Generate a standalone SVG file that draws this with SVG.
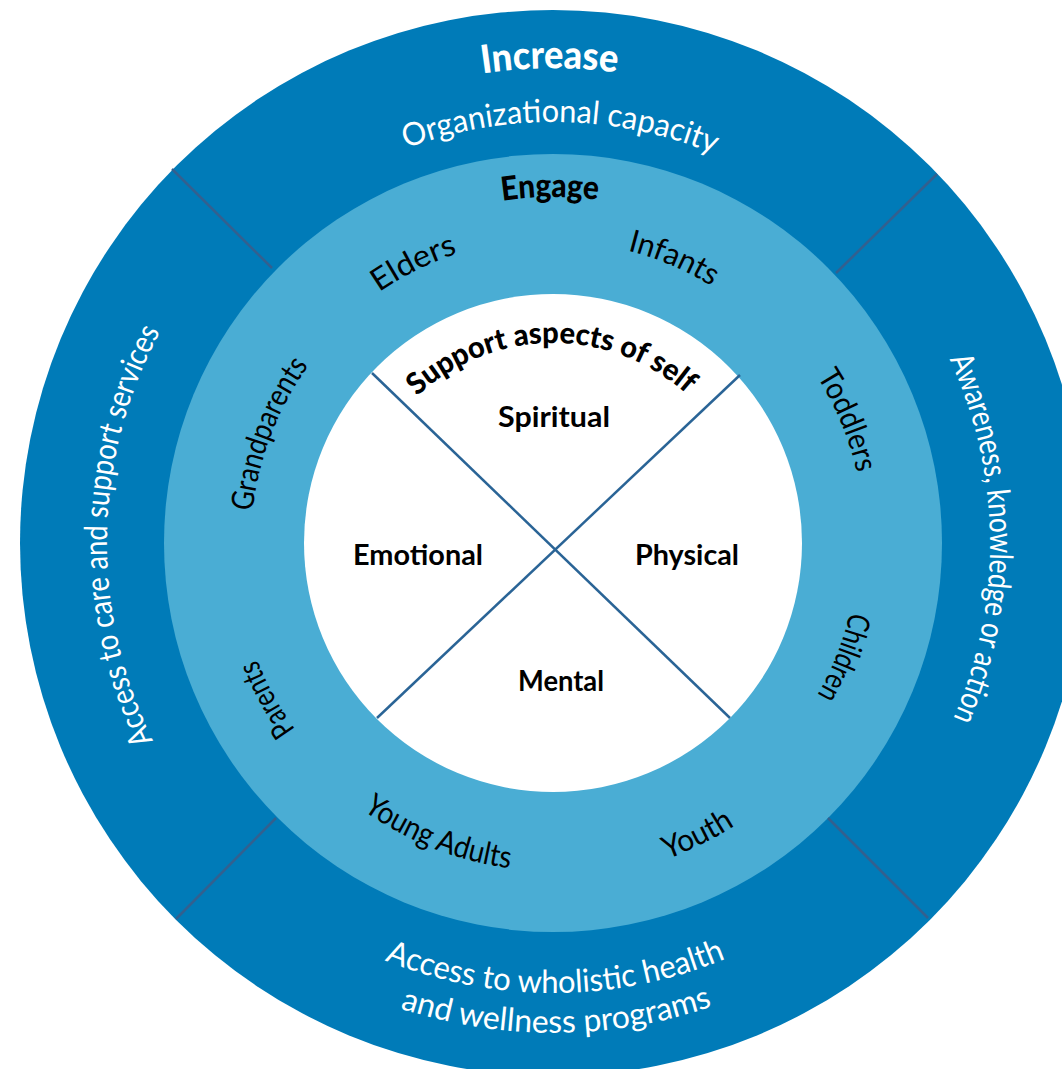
<svg xmlns="http://www.w3.org/2000/svg" width="1062" height="1069" viewBox="0 0 1062 1069">
<style>
.outer{fill:#007bb8}
.mid{fill:#4aadd4}
.inner{fill:#ffffff}
.div{stroke:#33608f;stroke-width:2.5;fill:none}
.cross{stroke:#2a6496;stroke-width:2.5;fill:none}
.wl{font-family:Lato,"Open Sans","Liberation Sans",sans-serif;font-weight:400;font-size:32px;fill:#ffffff;text-anchor:middle}
.bl{font-family:Lato,"Open Sans","Liberation Sans",sans-serif;font-weight:400;font-size:31px;fill:#000000;text-anchor:middle}
.hw{font-family:Lato,"Open Sans","Liberation Sans",sans-serif;font-weight:900;font-size:39px;fill:#ffffff;text-anchor:middle}
.hb{font-family:Lato,"Open Sans","Liberation Sans",sans-serif;font-weight:900;fill:#000000;text-anchor:middle}
.q{font-family:Lato,"Open Sans","Liberation Sans",sans-serif;font-weight:700;font-size:28px;fill:#000000;text-anchor:middle}
</style>
<defs>
<path id="c475" d="M78 543 A475 475 0 0 1 1028 543"/>
<path id="c421" d="M132 543 A421 421 0 0 1 974 543"/>
<path id="c346" d="M207 543 A346 346 0 0 1 899 543"/>
<path id="c200" d="M353 543 A200 200 0 0 1 753 543"/>
<path id="c437" d="M116 543 A437 437 0 0 1 990 543"/>
<path id="c446" d="M107 543 A446 446 0 0 1 999 543"/>
<path id="c302" d="M251 543 A302 302 0 0 1 855 543"/>
<path id="c305" d="M248 543 A305 305 0 0 1 858 543"/>
<path id="c312" d="M241 543 A312 312 0 0 1 865 543"/>
<path id="c305b" d="M248 543 A305 305 0 0 1 858 543"/>
<path id="c318" d="M235 543 A318 318 0 0 1 871 543"/>
<path id="a336" d="M217 543 A336 336 0 0 0 889 543"/>
<path id="a328" d="M225 543 A328 328 0 0 0 881 543"/>
<path id="a450" d="M103 543 A450 450 0 0 0 1003 543"/>
<path id="a490" d="M63 543 A490 490 0 0 0 1043 543"/>
</defs>

<g id="ring-increase">
<circle class="outer" cx="553" cy="543" r="533"/>
</g>
<g id="ring-engage">
<circle class="mid" cx="553" cy="543" r="389"/>
</g>
<g id="core-self">
<circle class="inner" cx="553" cy="543" r="249"/>
</g>

<g id="connectors">
<line class="div" x1="172" y1="169" x2="272" y2="268"/>
<line class="div" x1="937" y1="174" x2="836" y2="273"/>
<line class="div" x1="176" y1="919" x2="276" y2="818"/>
<line class="div" x1="928" y1="918" x2="828" y2="818"/>
<line class="cross" x1="372" y1="373" x2="730" y2="718"/>
<line class="cross" x1="740" y1="375" x2="377" y2="718"/>
</g>

<g id="outer-labels">
<text class="hw" transform="rotate(-0.4 553 543)"><textPath href="#c475" startOffset="50%" textLength="135" lengthAdjust="spacingAndGlyphs">Increase</textPath></text>
<text class="wl" transform="rotate(1 553 543)"><textPath href="#c421" startOffset="50%" textLength="315" lengthAdjust="spacingAndGlyphs">Organizational capacity</textPath></text>
<text class="wl" transform="rotate(89.4 553 543)"><textPath href="#c437" startOffset="50%" textLength="370" lengthAdjust="spacingAndGlyphs">Awareness, knowledge or action</textPath></text>
<text class="wl" transform="rotate(271 553 543)"><textPath href="#c446" startOffset="50%" textLength="425" lengthAdjust="spacingAndGlyphs">Access to care and support services</textPath></text>
<text class="wl" transform="rotate(-0.3 553 543)"><textPath href="#a450" startOffset="50%" textLength="350" lengthAdjust="spacingAndGlyphs">Access to wholistic health</textPath></text>
<text class="wl" font-size="31" transform="rotate(-0.4 553 543)"><textPath href="#a490" startOffset="50%" textLength="318" lengthAdjust="spacingAndGlyphs">and wellness programs</textPath></text>
</g>

<g id="engage-labels">
<text class="hb" font-size="33" transform="rotate(-0.5 553 543)"><textPath href="#c346" startOffset="50%" textLength="96" lengthAdjust="spacingAndGlyphs">Engage</textPath></text>
<text class="bl" transform="rotate(-26.5 553 543)"><textPath href="#c305" startOffset="50%" textLength="88" lengthAdjust="spacingAndGlyphs">Elders</textPath></text>
<text class="bl" transform="rotate(23 553 543)"><textPath href="#c302" startOffset="50%" textLength="92" lengthAdjust="spacingAndGlyphs">Infants</textPath></text>
<text class="bl" transform="rotate(67.4 553 543)"><textPath href="#c312" startOffset="50%" textLength="105" lengthAdjust="spacingAndGlyphs">Toddlers</textPath></text>
<text class="bl" transform="rotate(111.5 553 543)"><textPath href="#c305b" startOffset="50%" textLength="90" lengthAdjust="spacingAndGlyphs">Children</textPath></text>
<text class="bl" transform="rotate(-26.3 553 543)"><textPath href="#a336" startOffset="50%" textLength="76" lengthAdjust="spacingAndGlyphs">Youth</textPath></text>
<text class="bl" transform="rotate(21.5 553 543)"><textPath href="#a328" startOffset="50%" textLength="160" lengthAdjust="spacingAndGlyphs">Young Adults</textPath></text>
<text class="bl" transform="rotate(241.3 553 543)"><textPath href="#c318" startOffset="50%" textLength="80" lengthAdjust="spacingAndGlyphs">Parents</textPath></text>
<text class="bl" transform="rotate(291 553 543)"><textPath href="#c302" startOffset="50%" textLength="158" lengthAdjust="spacingAndGlyphs">Grandparents</textPath></text>
</g>

<g id="self-labels">
<text class="hb" font-size="30" transform="rotate(-0.5 553 543)"><textPath href="#c200" startOffset="50%" textLength="295" lengthAdjust="spacingAndGlyphs">Support aspects of self</textPath></text>
<text class="q" x="554" y="427" textLength="112" lengthAdjust="spacingAndGlyphs">Spiritual</text>
<text class="q" x="418" y="565" textLength="130" lengthAdjust="spacingAndGlyphs">Emotional</text>
<text class="q" x="687" y="565" textLength="104" lengthAdjust="spacingAndGlyphs">Physical</text>
<text class="q" x="561" y="691" textLength="86" lengthAdjust="spacingAndGlyphs">Mental</text>
</g>
</svg>
